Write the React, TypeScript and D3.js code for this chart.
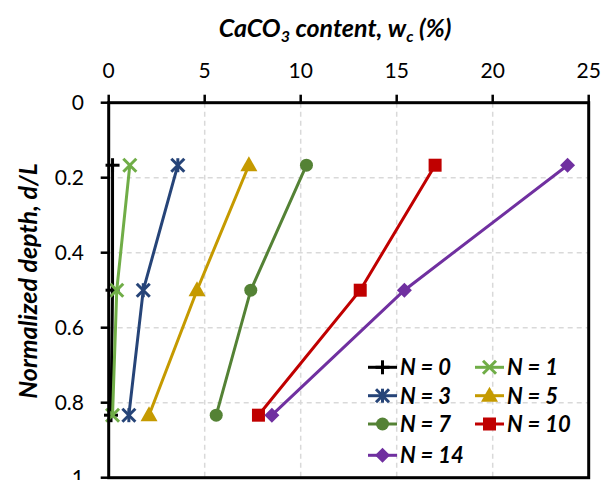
import React from "react";
import * as d3 from "d3";

const depths = [0.1667, 0.5, 0.8333];
const seriesNames = ["N = 0", "N = 1", "N = 3", "N = 5", "N = 7", "N = 10", "N = 14"];
const n0 = [0.2, 0.2, 0.12];
const n1 = [1.1, 0.42, 0.2];
const n3 = [3.6, 1.8, 1.05];
const n5 = [7.3, 4.6, 2.1];
const n7 = [10.3, 7.4, 5.6];
const n10 = [17.0, 13.1, 7.8];
const n14 = [23.9, 15.4, 8.5];
const seriesValues = [n0, n1, n3, n5, n7, n10, n14];
const seriesColors = ["#000000", "#70AD47", "#264478", "#C59A00", "#548235", "#C00000", "#7030A0"];
const seriesMarkers = ["plus", "x", "star", "triangle", "circle", "square", "diamond"];
const xTicks = [0, 5, 10, 15, 20, 25];
const yTicks = [0, 0.2, 0.4, 0.6, 0.8, 1];

const FONT = "Lato, 'Open Sans', sans-serif";

const x = d3.scaleLinear().domain([0, 25]).range([108.7, 588.7]);
const y = d3.scaleLinear().domain([0, 1]).range([102.7, 477.7]);

function Marker({ type, cx, cy, color }: { type: string; cx: number; cy: number; color: string }) {
  const s = 6.5;
  switch (type) {
    case "plus":
      return (
        <g stroke={color} strokeWidth={3}>
          <line x1={cx - 7} x2={cx + 7} y1={cy} y2={cy} />
          <line x1={cx} x2={cx} y1={cy - 7} y2={cy + 7} />
        </g>
      );
    case "x":
      return (
        <g stroke={color} strokeWidth={3}>
          <line x1={cx - s} x2={cx + s} y1={cy - s} y2={cy + s} />
          <line x1={cx - s} x2={cx + s} y1={cy + s} y2={cy - s} />
        </g>
      );
    case "star":
      return (
        <g stroke={color} strokeWidth={3}>
          <line x1={cx - s} x2={cx + s} y1={cy - s} y2={cy + s} />
          <line x1={cx - s} x2={cx + s} y1={cy + s} y2={cy - s} />
          <line x1={cx} x2={cx} y1={cy - 7} y2={cy + 7} />
        </g>
      );
    case "triangle":
      return <path d={`M${cx},${cy - 9} L${cx + 8.5},${cy + 6} L${cx - 8.5},${cy + 6} Z`} fill={color} />;
    case "circle":
      return <circle cx={cx} cy={cy} r={6.5} fill={color} />;
    case "square":
      return <rect x={cx - 6.5} y={cy - 6.5} width={13} height={13} fill={color} />;
    case "diamond":
      return <path d={`M${cx},${cy - 7.5} L${cx + 7.5},${cy} L${cx},${cy + 7.5} L${cx - 7.5},${cy} Z`} fill={color} />;
  }
  return null;
}

export default function App() {
  const line = d3
    .line<[number, number]>()
    .x((d) => x(d[0]))
    .y((d) => y(d[1]));

  const legendCols = [368, 475];
  const legendRows = [367.3, 395.7, 424, 455.3];

  return (
    <svg
      width={613}
      height={480}
      style={{ position: "absolute", left: 0, top: 0, background: "#fff" }}
      fontFamily={FONT}
    >
      <rect x={0} y={0} width={613} height={480} fill="#fff" />
      {/* gridlines */}
      {xTicks.slice(1, -1).map((t) => (
        <line key={"gx" + t} x1={x(t)} x2={x(t)} y1={y(0)} y2={y(1)} stroke="#d9d9d9" strokeWidth={1.5} strokeDasharray="5,4" />
      ))}
      {yTicks.slice(1, -1).map((t) => (
        <line key={"gy" + t} x1={x(0)} x2={x(25)} y1={y(t)} y2={y(t)} stroke="#d9d9d9" strokeWidth={1.5} strokeDasharray="5,4" />
      ))}

      {/* series */}
      {seriesValues.map((vals, i) => {
        const pts: [number, number][] = vals.map((v, j) => [v, depths[j]]);
        return (
          <g key={"s" + i}>
            <path d={line(pts) || ""} fill="none" stroke={seriesColors[i]} strokeWidth={3} />
            {pts.map((p, j) => (
              <Marker key={j} type={seriesMarkers[i]} cx={x(p[0])} cy={y(p[1])} color={seriesColors[i]} />
            ))}
          </g>
        );
      })}

      {/* frame */}
      <rect x={x(0)} y={y(0)} width={x(25) - x(0)} height={y(1) - y(0)} fill="none" stroke="#000" strokeWidth={3} />

      {/* top ticks */}
      {xTicks.map((t) => (
        <g key={"xt" + t}>
          <line x1={x(t)} x2={x(t)} y1={y(0) - 8} y2={y(0)} stroke="#000" strokeWidth={2.5} />
          <text x={x(t)} y={78} textAnchor="middle" fontSize={21} fill="#000">
            {t}
          </text>
        </g>
      ))}
      {/* left ticks */}
      {yTicks.map((t) => (
        <g key={"yt" + t}>
          <line x1={x(0) - 8} x2={x(0)} y1={y(t)} y2={y(t)} stroke="#000" strokeWidth={2.5} />
          <text x={84} y={y(t)} dy="0.36em" textAnchor="end" fontSize={21} fill="#000">
            {t}
          </text>
        </g>
      ))}

      {/* titles */}
      <text x={335} y={37} textAnchor="middle" fontSize={25} fontWeight="bold" fontStyle="italic" fill="#000">
        CaCO
        <tspan fontSize={16} dy={5}>3</tspan>
        <tspan dy={-5}> content, w</tspan>
        <tspan fontSize={16} dy={5}>c</tspan>
        <tspan dy={-5}> (%)</tspan>
      </text>
      <text
        transform={`translate(37,281) rotate(-90)`}
        textAnchor="middle"
        fontSize={25}
        fontWeight="bold"
        fontStyle="italic"
        fill="#000"
      >
        Normalized depth, d/L
      </text>

      {/* legend */}
      {seriesNames.map((name, i) => {
        const col = i % 2;
        const row = Math.floor(i / 2);
        const lx = legendCols[col];
        const ly = legendRows[row];
        return (
          <g key={"l" + i}>
            <line x1={lx} x2={lx + 29} y1={ly} y2={ly} stroke={seriesColors[i]} strokeWidth={3} />
            <Marker type={seriesMarkers[i]} cx={lx + 14.5} cy={ly} color={seriesColors[i]} />
            <text x={lx + 32} y={ly} dy="0.36em" fontSize={22} fontWeight="bold" fontStyle="italic" fill="#000">
              {name}
            </text>
          </g>
        );
      })}
    </svg>
  );
}
